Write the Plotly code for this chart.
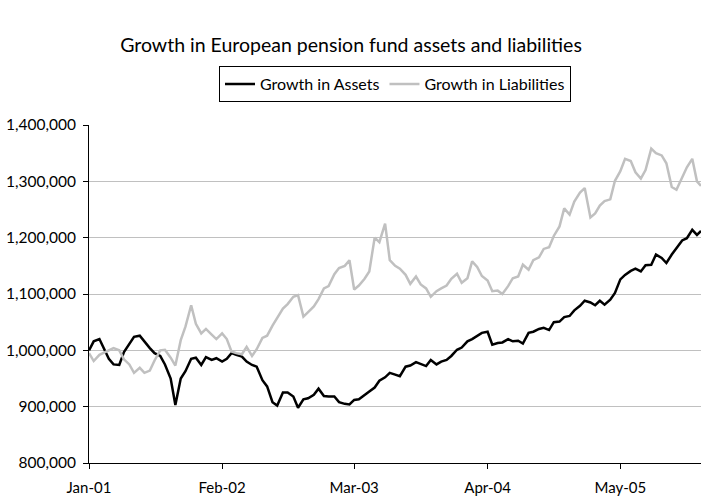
import pandas as pd
import plotly.graph_objects as go

# semi-monthly observation dates (1st and 15th of each month) plus the final observation
dates = list(pd.date_range("2001-01-01", "2005-12-15", freq="SMS").strftime("%Y-%m-%d")) + ["2005-12-27"]

assets = [
    1000, 1016, 1020, 1002, 985, 975, 974, 997, 1011, 1024, 1026, 1015,
    1004, 995, 990, 975, 950, 903, 950, 963, 985, 987, 974, 988,
    983, 986, 980, 985, 995, 992, 989, 980, 974, 971, 947, 936,
    908, 902, 925, 925, 918, 898, 913, 915, 921, 932, 919, 918,
    918, 908, 905, 904, 912, 913, 920, 927, 934, 946, 952, 960,
    957, 954, 971, 973, 979, 976, 972, 983, 975, 980, 983, 990,
    1001, 1005, 1016, 1020, 1025, 1031, 1033, 1010, 1013, 1014, 1020, 1016,
    1017, 1012, 1031, 1033, 1038, 1040, 1036, 1050, 1051, 1059, 1061, 1071,
    1079, 1088, 1085, 1080, 1088, 1081, 1090, 1102, 1126, 1134, 1141, 1145,
    1140, 1151, 1152, 1170, 1164, 1155, 1170, 1182, 1195, 1199, 1214, 1205,
    1212,
]
liabilities = [
    995, 981, 992, 996, 1001, 1004, 1000, 984, 975, 960, 969, 960,
    964, 982, 1000, 1001, 987, 973, 1018, 1042, 1080, 1047, 1030, 1038,
    1028, 1020, 1030, 1020, 998, 995, 993, 1006, 990, 1002, 1022, 1026,
    1044, 1057, 1074, 1082, 1095, 1098, 1060, 1068, 1078, 1091, 1110, 1114,
    1135, 1146, 1150, 1160, 1108, 1115, 1127, 1140, 1200, 1192, 1225, 1160,
    1150, 1145, 1134, 1118, 1131, 1117, 1110, 1095, 1105, 1110, 1115, 1127,
    1136, 1120, 1128, 1158, 1148, 1132, 1124, 1105, 1106, 1100, 1114, 1128,
    1131, 1152, 1143, 1160, 1165, 1180, 1183, 1203, 1220, 1252, 1241, 1264,
    1280, 1288, 1236, 1243, 1257, 1265, 1268, 1301, 1318, 1340, 1336, 1316,
    1305, 1320, 1358, 1350, 1346, 1332, 1290, 1285, 1308, 1325, 1340, 1300,
    1292,
]
assets = [v * 1000 for v in assets]
liabilities = [v * 1000 for v in liabilities]

tick_dates = ["2001-01-01", "2002-02-01", "2003-03-01", "2004-04-01", "2005-05-01"]
tick_text = ["Jan-01", "Feb-02", "Mar-03", "Apr-04", "May-05"]
y_ticks = [800000, 900000, 1000000, 1100000, 1200000, 1300000, 1400000]

FONT = "Lato, 'Open Sans', sans-serif"

fig = go.Figure()
fig.add_trace(go.Scatter(x=dates, y=assets, mode="lines", name="Growth in Assets",
                         line=dict(color="#000000", width=2.5)))
fig.add_trace(go.Scatter(x=dates, y=liabilities, mode="lines", name="Growth in Liabilities",
                         line=dict(color="#c0c0c0", width=2.5)))

fig.update_layout(
    width=702, height=498,
    margin=dict(l=89, r=1, t=125, b=35, autoexpand=False),
    paper_bgcolor="white", plot_bgcolor="white",
    font=dict(family=FONT, size=15, color="#000000"),
    title=dict(text="Growth in European pension fund assets and liabilities",
               x=0.5, xanchor="center", y=1 - 45 / 498, yanchor="middle",
               font=dict(family=FONT, size=19.5, color="#000000")),
    legend=dict(orientation="h", x=0.5, xanchor="center", y=1.121, yanchor="middle",
                bordercolor="#000000", borderwidth=1, bgcolor="white",
                font=dict(family=FONT, size=16, color="#000000"),
                tracegroupgap=0),
    showlegend=True,
)
fig.update_xaxes(
    type="date", range=["2001-01-01", "2005-12-27"], automargin=False,
    tickmode="array", tickvals=tick_dates, ticktext=tick_text,
    showline=True, linecolor="#000000", linewidth=1,
    ticks="outside", ticklen=5, tickcolor="#000000",
    showgrid=False, zeroline=False, ticklabelstandoff=6,
    tickfont=dict(family=FONT, size=15, color="#000000"),
)
fig.update_yaxes(
    range=[800000, 1400000], tickmode="array", tickvals=y_ticks, automargin=False,
    tickformat=",d",
    showline=True, linecolor="#000000", linewidth=1,
    ticks="outside", ticklen=5, tickcolor="#000000",
    showgrid=True, gridcolor="#c0c0c0", gridwidth=1, zeroline=False,
    ticklabelstandoff=4,
    tickfont=dict(family=FONT, size=15.5, color="#000000"),
)

fig.write_html("out.html", config={"displayModeBar": False},
               post_script="document.body.style.margin='0';document.body.style.overflow='hidden';")
